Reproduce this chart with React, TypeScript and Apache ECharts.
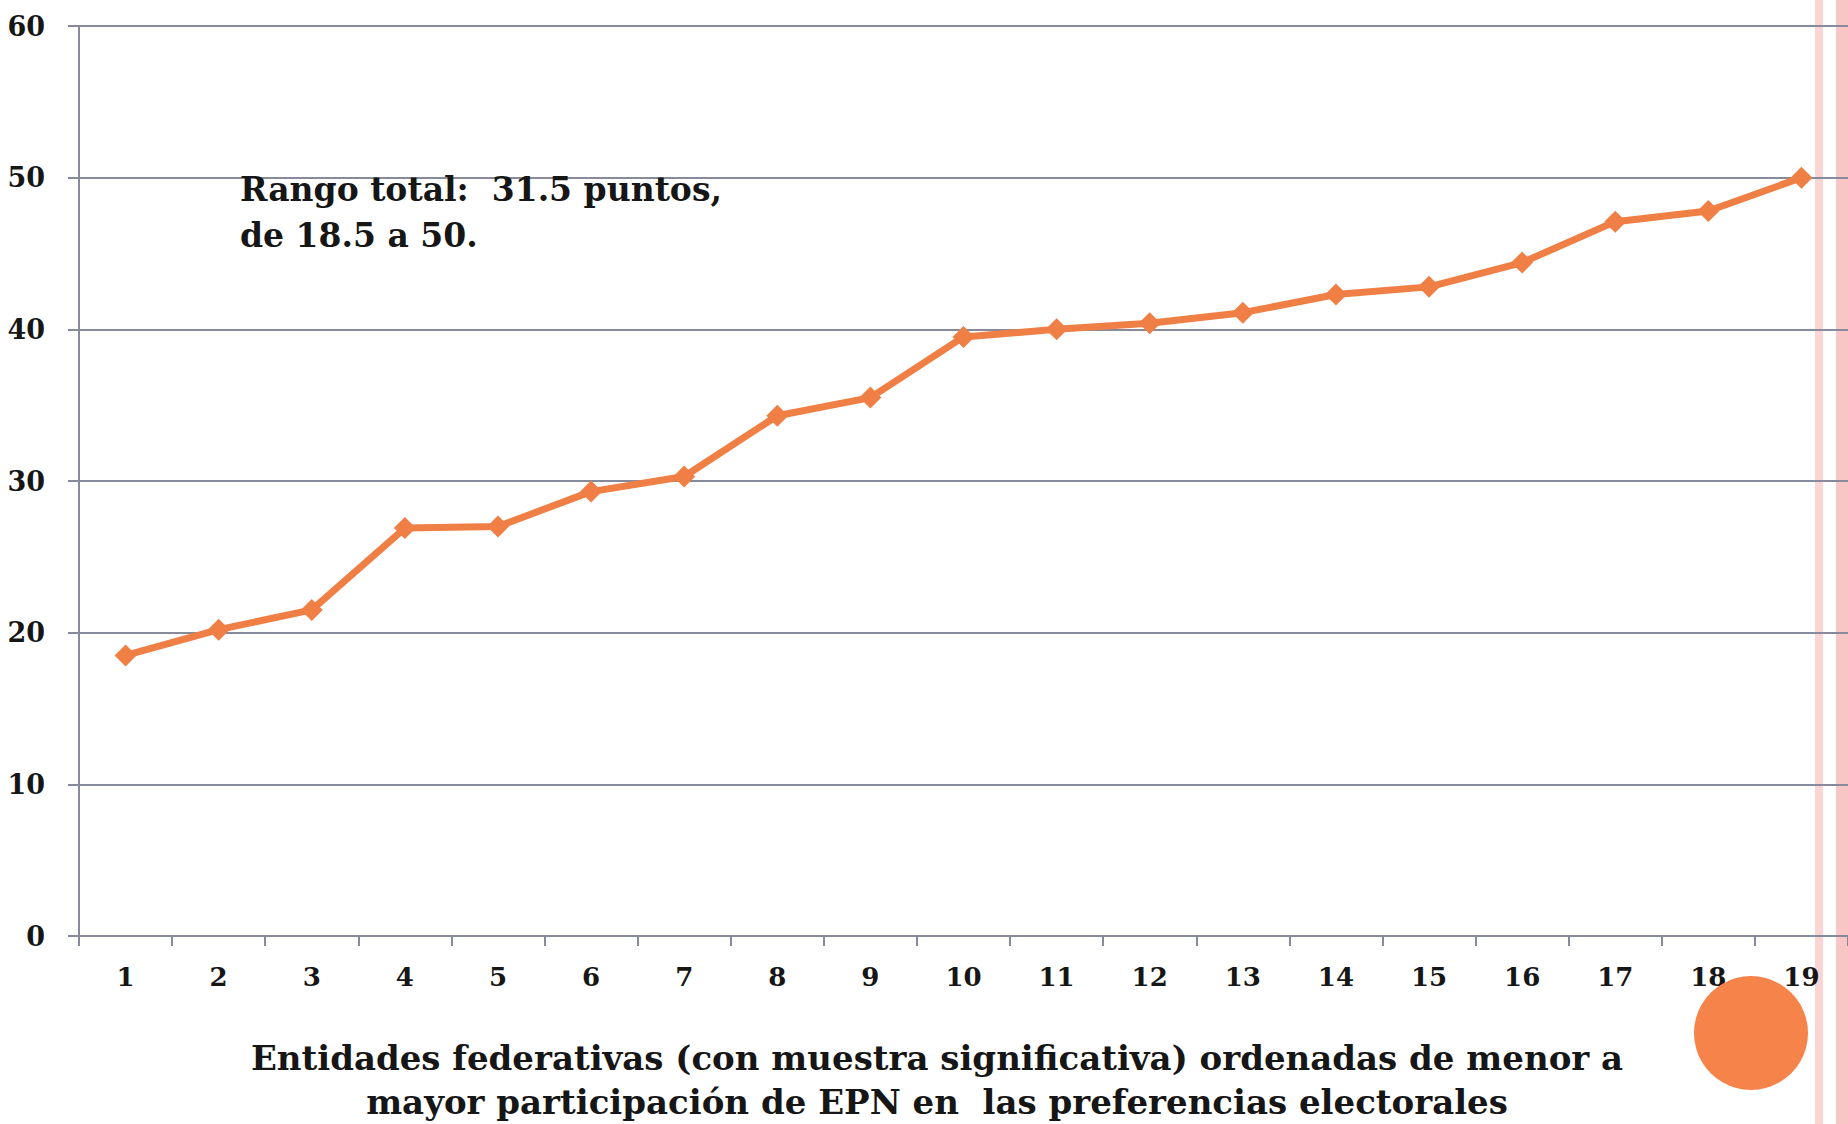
import React, { useEffect, useRef } from "react";
import * as echarts from "echarts";

const categories = ["1","2","3","4","5","6","7","8","9","10","11","12","13","14","15","16","17","18","19"];
const values = [18.5, 20.2, 21.5, 26.9, 27.0, 29.3, 30.3, 34.3, 35.5, 39.5, 40.0, 40.4, 41.1, 42.3, 42.8, 44.4, 47.1, 47.8, 50.0];
const yTicks = { min: 0, max: 60, interval: 10 };
const annotationLines = ["Rango total:  31.5 puntos,", "de 18.5 a 50."];
const axisTitleLines = [
  "Entidades federativas (con muestra significativa) ordenadas de menor a",
  "mayor participación de EPN en  las preferencias electorales",
];

const FONT = "'DejaVu Serif', 'Liberation Serif', serif";
const AXIS_COLOR = "#878a9a";
const ORANGE = "#f07f45";
const TEXT = "#161616";

export default function App() {
  const ref = useRef<HTMLDivElement>(null);
  useEffect(() => {
    if (!ref.current) return;
    const chart = echarts.init(ref.current, null, { renderer: "svg" });
    chart.setOption({
      animation: false,
      backgroundColor: "#ffffff",
      grid: { left: 79, right: 0, top: 26, bottom: 188, containLabel: false },
      xAxis: {
        type: "category",
        data: categories,
        boundaryGap: true,
        axisLine: { lineStyle: { color: AXIS_COLOR, width: 2 } },
        axisTick: { show: true, length: 10, lineStyle: { color: AXIS_COLOR, width: 2 } },
        axisLabel: { color: TEXT, fontFamily: FONT, fontWeight: "bold", fontSize: 26, margin: 28 },
        splitLine: { show: false },
        z: 3,
      },
      yAxis: {
        type: "value",
        min: yTicks.min,
        max: yTicks.max,
        interval: yTicks.interval,
        axisLine: { show: true, lineStyle: { color: AXIS_COLOR, width: 2 } },
        axisTick: { show: true, length: 11, lineStyle: { color: AXIS_COLOR, width: 2 } },
        axisLabel: { color: TEXT, fontFamily: FONT, fontWeight: "bold", fontSize: 27, margin: 34 },
        splitLine: { show: true, lineStyle: { color: AXIS_COLOR, width: 2 } },
        z: 3,
      },
      series: [
        {
          type: "line",
          data: values,
          symbol: "diamond",
          symbolSize: 22,
          lineStyle: { color: ORANGE, width: 7 },
          itemStyle: { color: ORANGE },
          z: 5,
        },
      ],
      graphic: [
        {
          type: "rect",
          shape: { x: 1815, y: 0, width: 8, height: 1124 },
          style: { fill: "#fbd4d4" },
          z: -10,
          zlevel: 0,
        },
        {
          type: "rect",
          shape: { x: 1836, y: 0, width: 12, height: 1124 },
          style: { fill: "#f9c6c6" },
          z: -10,
          zlevel: 0,
        },
        {
          type: "circle",
          shape: { cx: 1751, cy: 1033, r: 57 },
          style: { fill: "#f5834a" },
          z: 10,
        },
        {
          type: "text",
          left: 240,
          top: 166,
          style: {
            text: annotationLines.join("\n"),
            font: `bold 33px ${FONT}`,
            fill: TEXT,
            lineHeight: 46,
          },
          z: 10,
        },
        {
          type: "text",
          x: 937,
          y: 1036,
          style: {
            text: axisTitleLines.join("\n"),
            font: `bold 34px ${FONT}`,
            fill: TEXT,
            lineHeight: 44,
            align: "center",
            verticalAlign: "top",
          },
          z: 10,
        },
      ],
    });
    return () => chart.dispose();
  }, []);
  return (
    <div
      ref={ref}
      style={{ position: "fixed", left: 0, top: 0, width: 1848, height: 1124 }}
    />
  );
}
